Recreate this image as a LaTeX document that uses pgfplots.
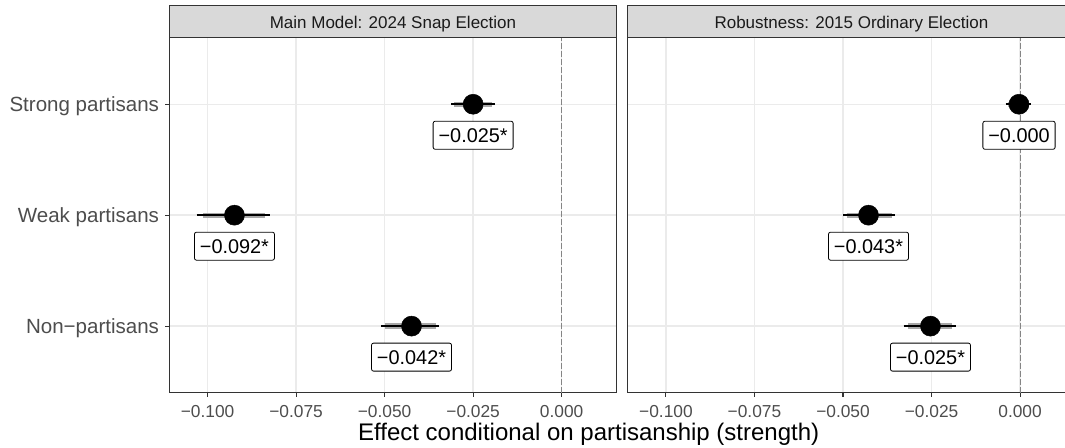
\documentclass[border=0pt]{standalone}
\usepackage{fontspec}
\setmainfont{Liberation Sans}
\usepackage{pgfplots}
\usepackage{pgfplotstable}
\pgfplotsset{compat=1.18}

\definecolor{axisgray}{HTML}{333333}
\definecolor{gridgray}{HTML}{EBEBEB}
\definecolor{ticktext}{HTML}{4D4D4D}
\definecolor{stripgray}{HTML}{D9D9D9}
\definecolor{striptext}{HTML}{1A1A1A}
\definecolor{cigray}{HTML}{A8A8A8}
\definecolor{zerogray}{HTML}{858585}

% point estimates and printed values
\pgfplotstableread{
pos est label
3 -0.0250 −0.025*
2 -0.0924 −0.092*
1 -0.0424 −0.042*
}\snapelection

\pgfplotstableread{
pos est label
3 -0.0003 −0.000
2 -0.0428 −0.043*
1 -0.0253 −0.025*
}\ordinaryelection

\pgfplotsset{
  panel/.style={
    anchor=south west,
    scale only axis,
    width=335.55pt, height=266.25pt,
    xmin=-0.1108, xmax=0.01554,
    ymin=0.4, ymax=3.6,
    xtick={-0.1,-0.075,-0.05,-0.025,0},
    xticklabels={−0.100,−0.075,−0.050,−0.025,0.000},
    ytick={1,2,3},
    xtick pos=bottom, ytick pos=left,
    tick align=outside,
    major tick length=3pt,
    tick style={draw=axisgray, line width=0.8pt},
    axis line style={draw=axisgray, line width=0.9pt},
    grid=major,
    major grid style={draw=gridgray, line width=1.1pt},
    unbounded coords=jump,
    xticklabel style={font=\fontsize{13}{15}\selectfont, text=ticktext,
      anchor=base, inner sep=0pt, yshift=-15.5pt},
    yticklabel style={font=\fontsize{15.4}{18}\selectfont, text=ticktext,
      anchor=base east, inner sep=0pt, xshift=-4.5pt, yshift=-5.8pt},
  },
  zeroline/.style={draw=zerogray, line width=0.75pt, dash pattern=on 4pt off 2pt},
  ci90/.style={draw=cigray, line width=4pt, mark=none},
  ci95/.style={draw=black, line width=1.25pt, mark=none},
  estimate/.style={only marks, mark=*, mark size=7.5pt, black,
    nodes near coords, point meta=explicit symbolic,
    nodes near coords style={anchor=center, yshift=-23.25pt,
      draw=black, fill=white, line width=0.6pt, rounded corners=1.5pt,
      text=black, font=\fontsize{14.9}{17}\selectfont,
      inner xsep=4.1pt, inner ysep=5.15pt, text height=10.7pt, text depth=0pt}},
}

\newcommand{\strip}[2]{%
  \draw[draw=axisgray, line width=0.9pt, fill=stripgray]
    (#1.north west) rectangle ([yshift=24pt]#1.north east);
  \node[anchor=base, inner sep=0pt, text=striptext,
        font=\fontsize{12.75}{15}\selectfont]
    at ([yshift=6.8pt]#1.north) {#2};
}

\begin{document}
\begin{tikzpicture}
\path[use as bounding box, clip] (0,0) rectangle (798.75pt,336pt);

\begin{axis}[panel, name=snap, at={(126.975pt,41.475pt)},
  yticklabels={Non−partisans, Weak partisans, Strong partisans}]
  \addplot[zeroline] coordinates {(0,0.4) (0,3.6)};
  % 90% intervals
  \addplot[ci90] coordinates {(-0.0304,3) (-0.0196,3) (nan,nan)
    (-0.1012,2) (-0.0838,2) (nan,nan) (-0.0499,1) (-0.0355,1)};
  % 95% intervals
  \addplot[ci95] coordinates {(-0.0312,3) (-0.0188,3) (nan,nan)
    (-0.1031,2) (-0.0823,2) (nan,nan) (-0.0510,1) (-0.0346,1)};
  \addplot[estimate] table[x=est, y=pos, meta=label] {\snapelection};
\end{axis}
\strip{snap}{Main Model: 2024 Snap Election}

\begin{axis}[panel, name=ordinary, at={(470.775pt,41.475pt)},
  yticklabels={}, ytick style={draw=none}]
  \addplot[zeroline] coordinates {(0,0.4) (0,3.6)};
  % 90% intervals
  \addplot[ci90] coordinates {(-0.0033,3) (0.0025,3) (nan,nan)
    (-0.0490,2) (-0.0362,2) (nan,nan) (-0.0316,1) (-0.0192,1)};
  % 95% intervals
  \addplot[ci95] coordinates {(-0.0041,3) (0.0032,3) (nan,nan)
    (-0.0499,2) (-0.0352,2) (nan,nan) (-0.0329,1) (-0.0182,1)};
  \addplot[estimate] table[x=est, y=pos, meta=label] {\ordinaryelection};
\end{axis}
\strip{ordinary}{Robustness: 2015 Ordinary Election}

\node[anchor=base, inner sep=0pt, font=\fontsize{18}{21}\selectfont]
  at (441.5pt,5.25pt) {Effect conditional on partisanship (strength)};
\end{tikzpicture}
\end{document}
